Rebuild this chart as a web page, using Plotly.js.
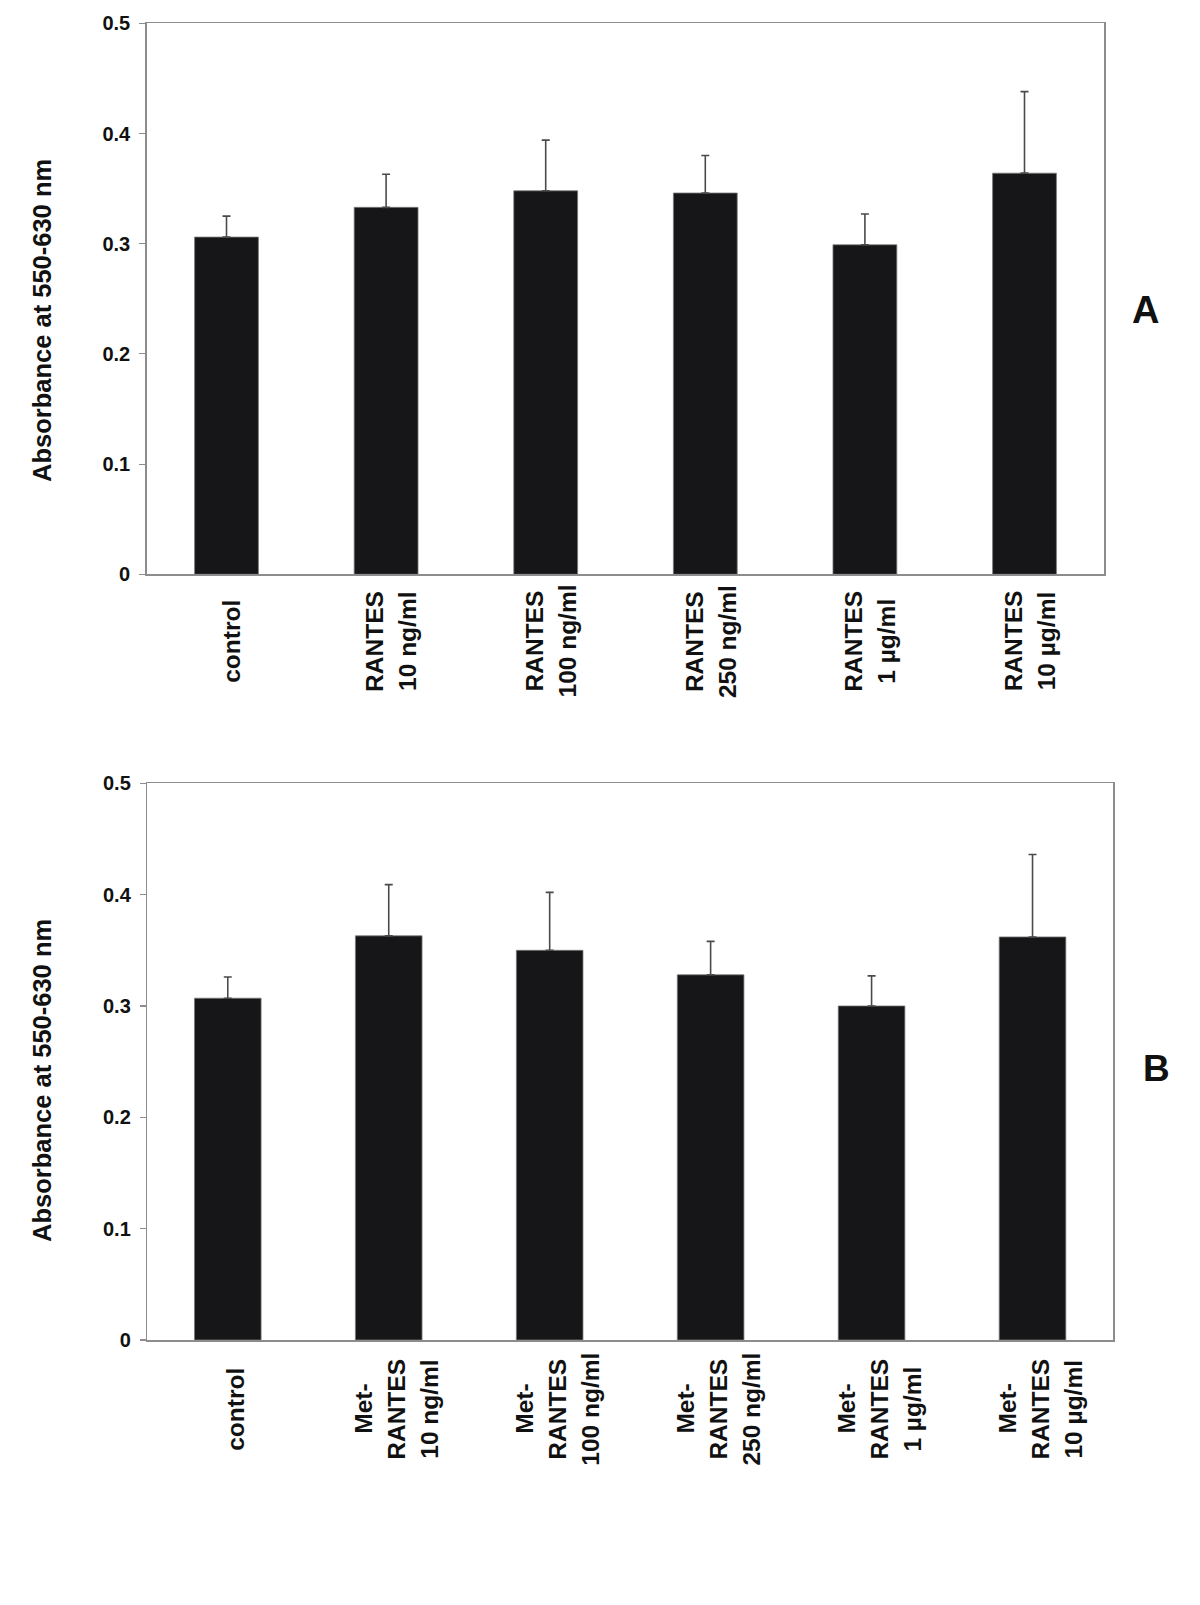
<!DOCTYPE html>
<html>
<head>
<meta charset="utf-8">
<script src="https://cdn.plot.ly/plotly-3.0.1.min.js"></script>
<style>html,body{margin:0;padding:0;background:#fff;}#chart{width:1200px;height:1605px;}</style>
</head>
<body>
<div id="chart"></div>
<script>
// Panel A data
const categoriesA = ['control', 'RANTES<br>10 ng/ml', 'RANTES<br>100 ng/ml', 'RANTES<br>250 ng/ml', 'RANTES<br>1 µg/ml', 'RANTES<br>10 µg/ml'];
const meansA = [0.306, 0.333, 0.348, 0.346, 0.299, 0.364];
const errorsA = [0.019, 0.030, 0.046, 0.034, 0.028, 0.074];

// Panel B data
const categoriesB = ['control', 'Met-<br>RANTES<br>10 ng/ml', 'Met-<br>RANTES<br>100 ng/ml', 'Met-<br>RANTES<br>250 ng/ml', 'Met-<br>RANTES<br>1 µg/ml', 'Met-<br>RANTES<br>10 µg/ml'];
const meansB = [0.307, 0.363, 0.350, 0.328, 0.300, 0.362];
const errorsB = [0.019, 0.046, 0.052, 0.030, 0.027, 0.074];

const yTickVals = [0, 0.1, 0.2, 0.3, 0.4, 0.5];
const yTickText = ['0', '0.1', '0.2', '0.3', '0.4', '0.5'];
const yTitle = 'Absorbance at 550-630 nm';
const panelLabels = ['A', 'B'];

const W = 1200, H = 1605;
const FONT = 'Liberation Sans, Arial, Helvetica, sans-serif';
const barColor = '#161618';
const frameColor = '#8c8c8c';

const idsA = categoriesA.map((c, i) => 'A' + i);
const idsB = categoriesB.map((c, i) => 'B' + i);

function barTrace(ids, means, errs, xa, ya, w) {
  return {
    type: 'bar', x: ids, y: means, xaxis: xa, yaxis: ya, width: w,
    marker: {color: barColor, line: {color: '#7a7a7a', width: 0.8}},
    error_y: {type: 'data', symmetric: false, array: errs, arrayminus: errs.map(() => 0),
              visible: true, color: '#4a4a4a', thickness: 1.6, width: 4},
    hoverinfo: 'skip', showlegend: false
  };
}

const traces = [
  barTrace(idsA, meansA, errorsA, 'x', 'y', 0.40),
  barTrace(idsB, meansB, errorsB, 'x2', 'y2', 0.414)
];

function xAxis(domain, ids, anchor) {
  return {
    domain: domain, anchor: anchor, type: 'category',
    categoryorder: 'array', categoryarray: ids,
    showline: true, mirror: true, linecolor: frameColor, linewidth: 1.5,
    ticks: '', showticklabels: false, showgrid: false, zeroline: false,
    fixedrange: true
  };
}
function yAxis(domain, anchor) {
  return {
    domain: domain, anchor: anchor, range: [0, 0.5],
    tickmode: 'array', tickvals: yTickVals, ticktext: yTickText,
    showline: true, mirror: true, linecolor: frameColor, linewidth: 1.5,
    ticks: 'outside', ticklen: 6, tickcolor: frameColor, tickwidth: 1.2,
    ticklabelstandoff: 5,
    tickfont: {family: FONT, size: 20, color: '#111', weight: 'bold'},
    showgrid: false, zeroline: false, fixedrange: true
  };
}

const annotations = [];
const LINE_STEP = 33;
function catLabels(cats, ids, xref, yref, yshift, xs) {
  cats.forEach((c, i) => {
    const lines = c.split('<br>');
    const n = lines.length;
    lines.forEach((ln, j) => {
      annotations.push({
        text: ln, x: ids[i], y: 0, xref: xref, yref: yref,
        textangle: -90, xanchor: 'center', yanchor: 'middle', align: 'center',
        yshift: yshift, xshift: xs + (j - (n - 1) / 2) * LINE_STEP, showarrow: false,
        font: {family: FONT, size: 24.5, color: '#111', weight: 'bold'}
      });
    });
  });
}
catLabels(categoriesA, idsA, 'x', 'y', -67, 5);
catLabels(categoriesB, idsB, 'x2', 'y2', -69, 7);

// y-axis titles
[321, 1081].forEach((py) => {
  annotations.push({
    text: yTitle, xref: 'paper', yref: 'paper', x: 42 / W, y: 1 - py / H,
    textangle: -90, xanchor: 'center', yanchor: 'middle', showarrow: false,
    font: {family: FONT, size: 25.5, color: '#111', weight: 'bold'}
  });
});
// panel letters
annotations.push({text: panelLabels[0], xref: 'paper', yref: 'paper', x: 1145.5 / W, y: 1 - 310 / H,
  xanchor: 'center', yanchor: 'middle', showarrow: false,
  font: {family: FONT, size: 38, color: '#111', weight: 'bold'}});
annotations.push({text: panelLabels[1], xref: 'paper', yref: 'paper', x: 1156.7 / W, y: 1 - 1068 / H,
  xanchor: 'center', yanchor: 'middle', showarrow: false,
  font: {family: FONT, size: 37, color: '#111', weight: 'bold'}});

const layout = {
  width: W, height: H,
  margin: {l: 0, r: 0, t: 0, b: 0},
  paper_bgcolor: '#ffffff', plot_bgcolor: '#ffffff',
  showlegend: false,
  xaxis: xAxis([146.7 / W, 1104.3 / W], idsA, 'y'),
  yaxis: yAxis([1 - 574.3 / H, 1 - 23.3 / H], 'x'),
  xaxis2: xAxis([147.3 / W, 1113 / W], idsB, 'y2'),
  yaxis2: yAxis([1 - 1340 / H, 1 - 783.3 / H], 'x2'),
  annotations: annotations,
  font: {family: FONT}
};

Plotly.newPlot('chart', traces, layout, {displayModeBar: false, staticPlot: true});
</script>
</body>
</html>
